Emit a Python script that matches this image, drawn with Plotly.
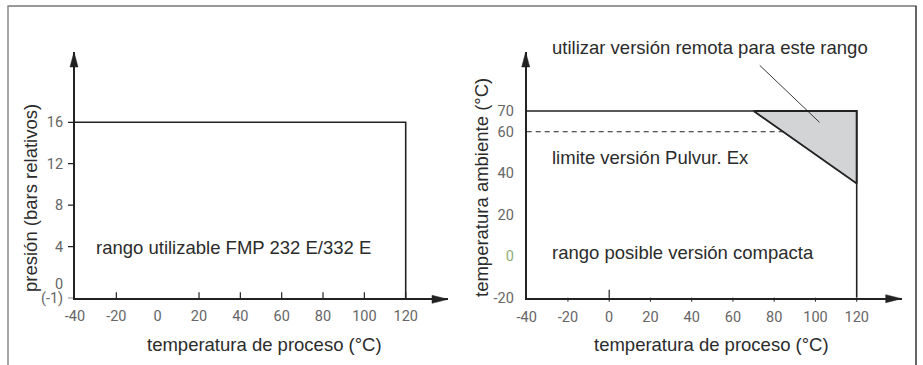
import plotly.graph_objects as go

W, H = 923, 365

# ---------------- data ----------------
# left chart: usable range FMP 232 E / 332 E
left_xticks = [-40, -20, 0, 20, 40, 60, 80, 100, 120]
left_xticktext = ["-40", "-20", "0", "20", "40", "60", "80", "100", "120"]
left_yticks = [-1, 0.35, 4, 8, 12, 16]     # label positions ("0" sits just above "(-1)")
left_yticktext = ["(-1)", "0", "4", "8", "12", "16"]
left_rect_x = [-40, 120, 120]          # process temperature (°C)
left_rect_y = [16, 16, -1]             # pressure (bar rel.)
left_xtick_marks = [-20, 20, 40, 60, 80, 100, 120]
left_ytick_marks = [-1, 4, 8, 12, 16]

# right chart: ambient temperature vs process temperature
right_xticks = [-40, -20, 0, 20, 40, 60, 80, 100, 120]
right_xticktext = ["-40", "-20", "0", "20", "40", "60", "80", "100", "120"]
right_yticks = [-20, 0, 20, 40, 60, 70]
right_yticktext = ["-20", '<span style="color:#8fae74">0</span>', "20", "40", "60", "70"]
right_rect_x = [-40, 120, 120]
right_rect_y = [70, 70, -20]
remote_x = [70, 120, 120, 70]          # gray triangle: remote version required
remote_y = [70, 70, 35, 70]
pulvur_x = [-40, 85]                   # Pulvur. Ex limit
pulvur_y = [60, 60]
leader_x = [73, 102]
leader_y = [92, 64.5]

# ---------------- layout helpers ----------------
def px(x):
    return x / W

def py(y):
    return 1 - y / H

LINE = "#222222"
TICKC = "#666666"
TXT = "#2b2b2b"

# left axes geometry (pixels)
L_x0, L_x1 = 75, 448
L_yb, L_yt = 298.3, 52
L_sx = (405.7 - 75) / 160.0
L_sy = (298.3 - 122.3) / 17.0
L_xr = [-40, -40 + (L_x1 - L_x0) / L_sx]
L_yr = [-1, -1 + (L_yb - L_yt) / L_sy]

# right axes geometry (pixels)
R_x0, R_x1 = 526.7, 901.7
R_yb, R_yt = 297.7, 52
R_sx = (856.7 - 526.7) / 160.0
R_sy = (297.7 - 111) / 90.0
R_xr = [-40, -40 + (R_x1 - R_x0) / R_sx]
R_yr = [-20, -20 + (R_yb - R_yt) / R_sy]

fig = go.Figure()

# left chart lines
fig.add_trace(go.Scatter(x=left_rect_x, y=left_rect_y, mode="lines",
                         line=dict(color=LINE, width=1.6), xaxis="x", yaxis="y",
                         showlegend=False, hoverinfo="skip"))

# right chart: gray triangle
fig.add_trace(go.Scatter(x=remote_x, y=remote_y, mode="lines", fill="toself",
                         fillcolor="#d3d4d6", line=dict(color=LINE, width=1.8),
                         xaxis="x2", yaxis="y2", showlegend=False, hoverinfo="skip"))
fig.add_trace(go.Scatter(x=right_rect_x, y=right_rect_y, mode="lines",
                         line=dict(color=LINE, width=1.6), xaxis="x2", yaxis="y2",
                         showlegend=False, hoverinfo="skip"))
fig.add_trace(go.Scatter(x=pulvur_x, y=pulvur_y, mode="lines",
                         line=dict(color=LINE, width=1, dash="5px,4px"),
                         xaxis="x2", yaxis="y2", showlegend=False, hoverinfo="skip"))
fig.add_trace(go.Scatter(x=leader_x, y=leader_y, mode="lines",
                         line=dict(color=LINE, width=0.9),
                         xaxis="x2", yaxis="y2", showlegend=False, hoverinfo="skip"))

tickfont = dict(family="Roboto, sans-serif", size=14.5, color=TICKC)

axis_common = dict(showgrid=False, zeroline=False, showline=True, linecolor=LINE,
                   linewidth=2, tickfont=tickfont, tickmode="array", ticks="",
                   fixedrange=True, automargin=False)

fig.update_layout(
    width=W, height=H,
    margin=dict(l=0, r=0, t=0, b=0, pad=0, autoexpand=False),
    paper_bgcolor="white", plot_bgcolor="white",
    showlegend=False,
    xaxis=dict(domain=[px(L_x0), px(L_x1)], range=L_xr, anchor="y",
               tickvals=left_xticks, ticktext=left_xticktext,
               ticklabelstandoff=3, **axis_common),
    yaxis=dict(domain=[py(L_yb), py(L_yt)], range=L_yr, anchor="x",
               tickvals=left_yticks, ticktext=left_yticktext,
               ticklabelstandoff=7, **axis_common),
    xaxis2=dict(domain=[px(R_x0), px(R_x1)], range=R_xr, anchor="y2",
                tickvals=right_xticks, ticktext=right_xticktext,
                ticklabelstandoff=5, **axis_common),
    yaxis2=dict(domain=[py(R_yb), py(R_yt)], range=R_yr, anchor="x2",
                tickvals=right_yticks, ticktext=right_yticktext,
                ticklabelstandoff=8, **axis_common),
)

shapes = []
# tick marks left x (upward)
for v in left_xtick_marks:
    shapes.append(dict(type="line", xref="x", yref="paper", x0=v, x1=v,
                       y0=py(L_yb), y1=py(L_yb - 6), line=dict(color=LINE, width=1.2)))
# tick marks left y (leftward)
for v in left_ytick_marks:
    shapes.append(dict(type="line", xref="paper", yref="y", y0=v, y1=v,
                       x0=px(L_x0 - 7), x1=px(L_x0), line=dict(color=LINE, width=1.2)))
# tick marks right x (small downward, 0 upward)
for v in right_xticks[1:]:
    shapes.append(dict(type="line", xref="x2", yref="paper", x0=v, x1=v,
                       y0=py(R_yb), y1=py(R_yb + 4), line=dict(color=LINE, width=1)))
shapes.append(dict(type="line", xref="x2", yref="paper", x0=0, x1=0,
                   y0=py(R_yb), y1=py(R_yb - 8), line=dict(color=LINE, width=1.2)))

# arrow heads
def arrow_up(xp, tip):
    return dict(type="path", xref="paper", yref="paper",
                path=f"M {px(xp-4)} {py(tip+15)} L {px(xp)} {py(tip)} L {px(xp+4)} {py(tip+15)} Z",
                fillcolor=LINE, line=dict(color=LINE, width=0.5))

def arrow_right(yp, tip):
    return dict(type="path", xref="paper", yref="paper",
                path=f"M {px(tip-16)} {py(yp-4)} L {px(tip)} {py(yp)} L {px(tip-16)} {py(yp+4)} Z",
                fillcolor=LINE, line=dict(color=LINE, width=0.5))

shapes += [arrow_up(L_x0 - 1, L_yt), arrow_right(L_yb + 1, L_x1),
           arrow_up(R_x0 - 1, R_yt), arrow_right(R_yb + 1, R_x1)]

# frame
shapes += [
    dict(type="line", xref="paper", yref="paper", x0=px(7.5), x1=px(916.5), y0=py(6), y1=py(6),
         line=dict(color="#333333", width=1.2)),
    dict(type="line", xref="paper", yref="paper", x0=px(8), x1=px(8), y0=py(6), y1=0,
         line=dict(color="#8a8a8a", width=1.5)),
    dict(type="line", xref="paper", yref="paper", x0=px(916), x1=px(916), y0=py(6), y1=0,
         line=dict(color="#333333", width=1.5)),
]
fig.update_layout(shapes=shapes)

tfont = dict(family="Liberation Sans, Arial, sans-serif", size=18.5, color=TXT)
ann = [
    dict(text="presión (bars relativos)", x=px(30), y=py(198), textangle=-90),
    dict(text="temperatura de proceso (°C)", x=px(264), y=py(344)),
    dict(text="temperatura ambiente (°C)", x=px(481), y=py(188), textangle=-90),
    dict(text="temperatura de proceso (°C)", x=px(711), y=py(344)),
    dict(text="rango utilizable FMP 232 E/332 E", x=px(94), y=py(247), xanchor="left"),
    dict(text="utilizar versión remota para este rango", x=px(550), y=py(47), xanchor="left"),
    dict(text="limite versión Pulvur. Ex", x=px(550), y=py(157), xanchor="left"),
    dict(text="rango posible versión compacta", x=px(550), y=py(252), xanchor="left"),
]
annotations = []
for a in ann:
    d = dict(xref="paper", yref="paper", showarrow=False, font=tfont,
             xanchor=a.get("xanchor", "center"), yanchor="middle")
    d.update(a)
    annotations.append(d)
fig.update_layout(annotations=annotations)

fig.write_html("out.html", config={"displayModeBar": False, "staticPlot": True},
               post_script="document.body.style.margin='0';document.body.style.overflow='hidden';")
